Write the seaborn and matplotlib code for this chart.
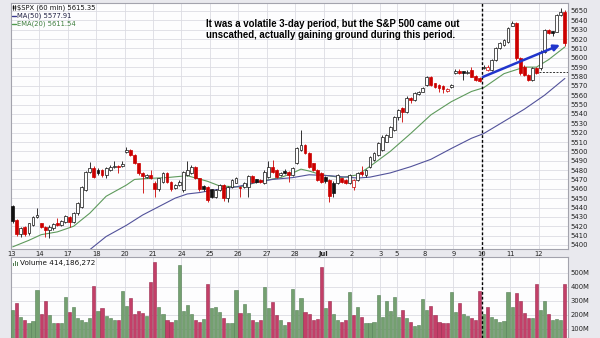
import numpy as np
import matplotlib
matplotlib.use("Agg")
import matplotlib.pyplot as plt
from matplotlib.lines import Line2D
from matplotlib.patches import Rectangle
import seaborn as sns

# ---------------- data ----------------
day_labels = ["13", "14", "17", "18", "20", "21", "24", "25", "26", "27", "28",
              "Jul", "2", "3", "5", "8", "9", "10", "11", "12"]
bars_per_day = [7] * 13 + [4] + [7] * 6
prev_close = 5421.0

opens = [
    5441.7, 5426.7, 5411.8, 5418.9, 5412.5, 5421.4, 5430.3,   # Jun 13
    5423.2, 5419.6, 5416.0, 5417.8, 5423.2, 5421.4, 5424.9,   # Jun 14
    5430.3, 5424.9, 5433.8, 5441.0, 5458.8, 5478.4, 5481.9,   # Jun 17
    5480.1, 5480.1, 5474.8, 5480.1, 5483.0, 5484.4, 5484.4,   # Jun 18
    5499.7, 5501.5, 5496.2, 5487.3, 5476.6, 5473.0, 5474.8,   # Jun 20
    5466.6, 5459.5, 5467.7, 5476.6, 5467.7, 5460.5, 5464.1,   # Jun 21
    5458.8, 5474.8, 5476.6, 5483.0, 5471.2, 5463.0, 5462.3,   # Jun 24
    5459.5, 5451.6, 5458.8, 5464.1, 5449.9, 5462.3, 5466.6,   # Jun 25
    5462.3, 5462.3, 5462.3, 5473.7, 5470.2, 5469.5, 5465.9,   # Jun 26
    5473.0, 5483.7, 5480.1, 5474.8, 5479.4, 5478.4, 5474.8,   # Jun 27
    5487.2, 5501.5, 5506.8, 5497.9, 5487.2, 5480.1, 5476.6,   # Jun 28
    5473.0, 5469.5, 5466.0, 5465.9, 5471.2, 5469.5, 5465.9,   # Jul 1
    5462.3, 5469.5, 5478.4, 5475.0, 5483.7, 5490.8, 5496.2,   # Jul 2
    5501.5, 5510.4, 5515.7, 5522.9,                           # Jul 3
    5537.1, 5546.0, 5542.5, 5557.5, 5554.5, 5561.3, 5563.8,   # Jul 5
    5570.9, 5579.1, 5572.7, 5570.9, 5569.9, 5565.0, 5568.5,   # Jul 8
    5584.1, 5586.3, 5585.5, 5583.4, 5587.0, 5580.6, 5578.0,   # Jul 9
    5588.8, 5587.0, 5587.0, 5597.6, 5610.1, 5613.7, 5617.2,   # Jul 10
    5634.3, 5636.8, 5599.4, 5590.5, 5581.6, 5576.3, 5588.8,   # Jul 11
    5588.8, 5606.6, 5629.7, 5628.5, 5627.9, 5645.7, 5649.3,   # Jul 12
]
highs = [
    5443.0, 5427.5, 5419.0, 5420.0, 5424.0, 5431.0, 5439.2,
    5424.0, 5420.5, 5421.0, 5423.0, 5428.5, 5427.0, 5432.0,
    5431.0, 5435.0, 5446.0, 5463.0, 5479.0, 5489.0, 5484.0,
    5482.0, 5481.0, 5483.0, 5485.0, 5490.1, 5485.0, 5490.1,
    5505.1, 5502.5, 5497.0, 5488.0, 5477.5, 5476.0, 5480.1,
    5468.0, 5472.0, 5478.0, 5478.0, 5468.5, 5465.5, 5469.0,
    5479.5, 5490.1, 5485.0, 5484.5, 5472.0, 5464.0, 5463.0,
    5460.0, 5460.0, 5465.0, 5465.0, 5463.5, 5470.5, 5473.0,
    5463.0, 5467.0, 5475.0, 5475.0, 5471.0, 5470.5, 5480.0,
    5490.1, 5490.8, 5481.0, 5478.0, 5481.0, 5479.5, 5483.0,
    5504.5, 5522.9, 5508.0, 5499.0, 5488.0, 5481.0, 5477.5,
    5474.0, 5470.5, 5468.5, 5476.0, 5472.0, 5470.5, 5476.0,
    5470.5, 5478.0, 5484.0, 5481.0, 5495.5, 5499.0, 5509.5,
    5517.0, 5519.0, 5527.5, 5538.0,
    5545.0, 5547.0, 5559.0, 5558.5, 5563.0, 5565.0, 5569.0,
    5580.5, 5580.0, 5573.5, 5572.0, 5570.5, 5568.0, 5572.0,
    5587.5, 5587.5, 5586.0, 5586.5, 5590.5, 5581.5, 5579.0,
    5592.0, 5592.0, 5599.0, 5611.5, 5617.0, 5620.5, 5633.0,
    5639.5, 5638.5, 5600.5, 5592.0, 5582.5, 5590.0, 5590.0,
    5608.0, 5631.0, 5631.0, 5629.0, 5647.0, 5652.9, 5650.5,
]
lows = [
    5424.0, 5410.0, 5408.9, 5410.0, 5411.0, 5420.0, 5429.0,
    5418.0, 5408.9, 5407.1, 5416.0, 5420.0, 5420.0, 5423.0,
    5419.6, 5423.0, 5432.0, 5440.0, 5458.0, 5477.0, 5472.0,
    5475.0, 5473.0, 5471.2, 5479.0, 5482.0, 5476.6, 5483.0,
    5498.5, 5495.0, 5486.0, 5475.0, 5455.2, 5472.0, 5470.0,
    5451.6, 5458.0, 5466.0, 5466.0, 5458.0, 5459.5, 5463.0,
    5457.0, 5474.0, 5476.0, 5470.0, 5458.0, 5457.5, 5446.0,
    5450.0, 5450.5, 5457.5, 5447.0, 5446.0, 5461.0, 5466.0,
    5451.6, 5461.0, 5451.6, 5466.0, 5466.5, 5466.0, 5465.0,
    5472.0, 5477.0, 5472.0, 5474.0, 5475.5, 5467.7, 5474.0,
    5486.0, 5500.5, 5497.0, 5482.5, 5479.0, 5468.0, 5466.5,
    5466.0, 5446.3, 5451.0, 5465.0, 5466.5, 5465.5, 5465.0,
    5458.8, 5468.5, 5473.5, 5473.0, 5482.5, 5490.0, 5495.0,
    5500.5, 5509.5, 5515.0, 5522.0,
    5533.5, 5531.8, 5541.5, 5552.0, 5554.0, 5560.5, 5563.0,
    5570.0, 5569.5, 5568.0, 5563.8, 5562.0, 5563.5, 5568.0,
    5583.0, 5582.5, 5576.3, 5582.5, 5579.0, 5575.5, 5574.5,
    5587.5, 5586.0, 5586.0, 5596.5, 5609.0, 5612.5, 5616.0,
    5633.5, 5598.0, 5582.0, 5580.0, 5575.0, 5575.0, 5583.0,
    5587.0, 5605.5, 5625.0, 5623.5, 5627.0, 5644.5, 5613.0,
]
closes = [
    5426.0, 5411.8, 5417.8, 5411.8, 5423.2, 5430.3, 5432.0,
    5419.6, 5416.0, 5419.6, 5422.1, 5421.4, 5425.7, 5431.3,
    5424.9, 5433.8, 5444.5, 5462.3, 5478.4, 5481.9, 5473.0,
    5476.6, 5474.8, 5481.9, 5483.7, 5484.4, 5483.0, 5486.5,
    5501.5, 5496.2, 5487.3, 5476.6, 5473.7, 5474.8, 5471.2,
    5459.5, 5471.2, 5476.6, 5467.7, 5459.5, 5464.1, 5467.7,
    5478.4, 5480.1, 5483.7, 5471.2, 5459.5, 5460.0, 5448.1,
    5451.6, 5458.8, 5464.1, 5449.9, 5462.3, 5469.5, 5471.2,
    5460.5, 5465.9, 5473.7, 5467.7, 5467.7, 5467.0, 5478.4,
    5483.7, 5478.4, 5473.0, 5476.6, 5476.6, 5474.8, 5481.9,
    5503.3, 5506.8, 5497.9, 5483.7, 5480.1, 5469.5, 5467.7,
    5468.2, 5452.0, 5455.5, 5474.8, 5467.7, 5466.6, 5474.8,
    5469.5, 5476.6, 5475.5, 5480.0, 5494.4, 5497.9, 5508.6,
    5515.7, 5517.5, 5526.4, 5537.1,
    5544.2, 5542.5, 5557.5, 5555.2, 5562.0, 5563.8, 5567.4,
    5579.1, 5570.9, 5569.2, 5567.4, 5567.0, 5566.5, 5570.9,
    5586.3, 5583.4, 5584.0, 5585.2, 5579.8, 5576.3, 5575.5,
    5590.5, 5590.0, 5597.6, 5610.1, 5615.5, 5619.0, 5631.5,
    5637.2, 5599.4, 5583.4, 5581.6, 5576.3, 5588.8, 5584.1,
    5606.6, 5629.7, 5626.1, 5626.5, 5645.7, 5649.3, 5615.35,
]
volume_m = [
    233.5, 285.9, 185.9, 162.1, 143.0, 157.3, 376.4,
    202.6, 300.2, 197.8, 143.0, 143.0, 143.0, 328.8,
    219.2, 257.3, 178.8, 162.1, 150.2, 174.0, 407.3,
    226.4, 245.4, 190.7, 174.0, 162.1, 162.1, 369.2,
    262.1, 316.9, 205.0, 226.4, 214.5, 190.7, 433.5,
    576.4, 257.3, 202.6, 162.1, 150.2, 162.1, 555.0,
    226.4, 269.2, 205.0, 162.1, 150.2, 169.2, 419.2,
    245.4, 252.6, 216.9, 174.0, 143.0, 143.0, 376.4,
    214.5, 274.0, 214.5, 162.1, 150.2, 159.7, 400.2,
    250.2, 288.3, 197.8, 162.1, 126.4, 150.2, 381.1,
    233.5, 316.9, 221.6, 202.6, 162.1, 169.2, 543.1,
    245.4, 300.2, 202.6, 162.1, 150.2, 162.1, 359.7,
    197.8, 257.3, 181.1, 143.0, 143.0, 150.2, 340.7,
    185.9, 297.8, 228.8, 324.0,
    185.9, 233.5, 174.0, 150.2, 119.2, 126.4, 312.1,
    233.5, 262.1, 197.8, 150.2, 143.0, 143.0, 359.7,
    216.9, 285.9, 202.6, 190.7, 174.0, 162.1, 371.6,
    202.6, 257.3, 185.9, 169.2, 150.2, 155.0, 359.7,
    257.3, 352.6, 297.8, 214.5, 174.0, 174.0, 416.8,
    231.1, 297.8, 202.6, 162.1, 166.8, 162.1, 416.8,
]
ema20_bar = [0, 4, 7, 11, 15, 19, 23, 28, 30, 33, 38, 43, 48, 51, 56, 61, 66, 69,
             71, 73, 76, 81, 85, 88, 93, 98, 103, 108, 113, 116, 121, 126, 129, 132, 136]
ema20_val = [5398, 5405, 5411, 5414, 5420, 5434, 5452, 5464, 5470, 5471, 5472, 5474,
             5468, 5463, 5462, 5468, 5472, 5477, 5481, 5479, 5475, 5472, 5475, 5484,
             5500, 5519, 5539, 5553, 5564, 5568, 5583, 5590, 5590, 5598, 5611.54]
ma50_bar = [19, 23, 28, 32, 36, 40, 43, 46, 50, 55, 60, 64, 69, 73, 78, 85, 88, 93,
            98, 103, 108, 113, 116, 121, 126, 131, 136]
ma50_val = [5395, 5409, 5421, 5432, 5441, 5450, 5454.5, 5456, 5459, 5462, 5467, 5470,
            5472, 5475, 5474, 5471.5, 5472.5, 5477, 5483.6, 5491.5, 5503, 5514, 5519,
            5532, 5545, 5560, 5577.91]

last_close = 5615.35
ma50_last = 5577.91
ema20_last = 5611.54
last_volume = 414186272
note_lines = ["It was a volatile 3-day period, but the S&P 500 came out",
              "unscathed, actually gaining ground during this period."]
arrow_from = (115.8, 5579.5)
arrow_to = (134.8, 5613.7)
support_level = 5584.3
support_from_day = "12"
marker_day = "10"
price_ticks = list(range(5400, 5651, 10))
vol_ticks = [100, 200, 300, 400, 500]

# ---------------- style ----------------
sns.set_theme(style="white")
plt.rcParams["font.family"] = ["DejaVu Sans"]

FIG_BG = "#E9E9EE"
PLOT_BG = "#FDFDFE"
GRID = "#DCDCE3"
SPINE = "#A3A3AD"
RED = "#CC0000"
VOL_G, VOL_G_E = "#74A070", "#557F55"
VOL_R, VOL_R_E = "#C33F68", "#9A2A4E"

W, H = 600, 338
fig = plt.figure(figsize=(W / 100, H / 100), dpi=100)
fig.patch.set_facecolor(FIG_BG)


def px(l, t, r, b):
    return [l / W, 1 - b / H, (r - l) / W, (b - t) / H]


def fx(x):
    return x / W


def fy(y):
    return 1 - y / H


ax = fig.add_axes(px(11, 3, 568, 249))
axv = fig.add_axes(px(11, 257, 568, 338))

o = np.array(opens)
h = np.array(highs)
lo = np.array(lows)
c = np.array(closes)
v = np.array(volume_m)
idx = np.arange(len(c))
prevc = np.r_[prev_close, c[:-1]]
up_day = c >= prevc
edge = np.where(up_day, "#111111", RED)
fill = np.where(c > o, "white", edge)

starts = np.cumsum([0] + bars_per_day[:-1])
xlim = (-0.42, len(c) - 0.23)
day_pos = np.maximum(starts - 0.45, xlim[0] + 0.05)

for a in (ax, axv):
    a.set_facecolor(PLOT_BG)
    a.set_xlim(*xlim)
    a.set_xticks(day_pos)
    a.grid(True, color=GRID, linewidth=0.6)
    a.set_axisbelow(True)
    for s in a.spines.values():
        s.set_color(SPINE)
        s.set_linewidth(0.8)
    a.yaxis.tick_right()
    a.tick_params(axis="both", length=0, labelsize=4.9, colors="#222222", pad=2)

# moving averages
sns.lineplot(x=ema20_bar, y=ema20_val, ax=ax, color="#5E9A5C", linewidth=0.8,
             zorder=2, legend=False)
sns.lineplot(x=ma50_bar, y=ma50_val, ax=ax, color="#52529A", linewidth=0.8,
             zorder=2, legend=False)

# candles
ax.vlines(idx, lo, h, colors=edge, linewidth=0.6, zorder=3)
ax.bar(idx, np.maximum(np.abs(c - o), 0.35), bottom=np.minimum(o, c), width=0.7,
       color=fill, edgecolor=edge, linewidth=0.5, zorder=4)

ax.set_ylim(5395.7, 5658.5)
ax.set_yticks(price_ticks)
ax.set_yticklabels([str(t) for t in price_ticks])
ax.set_xticklabels(day_labels)
ax.tick_params(axis="x", pad=1.5)
for t in ax.get_xticklabels():
    if t.get_text() == "Jul":
        t.set_fontweight("bold")
ax.set_xlabel("")
ax.set_ylabel("")

# volume
vcol = np.where(up_day, VOL_G, VOL_R)
vedge = np.where(up_day, VOL_G_E, VOL_R_E)
axv.bar(idx, v, width=0.78, color=vcol, edgecolor=vedge, linewidth=0.4, zorder=3)
axv.set_ylim(33.6, 612)
axv.set_yticks(vol_ticks)
axv.set_yticklabels([f"{t}M" for t in vol_ticks])
axv.set_xticklabels([])
axv.set_xlabel("")
axv.set_ylabel("")

# marker lines
x_mark = starts[day_labels.index(marker_day)] - 0.45
ax.axvline(x_mark, ymin=-0.04, ymax=1, color="black", linestyle=(0, (2, 1.5)),
           linewidth=1.0, zorder=5, clip_on=False)
axv.axvline(x_mark, color="black", linestyle=(0, (2, 1.5)), linewidth=1.0, zorder=5)
x_sup = starts[day_labels.index(support_from_day)] - 0.45
ax.hlines(support_level, x_sup, xlim[1], colors="#333333", linestyles=(0, (2, 1.5)),
          linewidth=0.7, zorder=5)

ax.annotate("", xy=arrow_to, xytext=arrow_from,
            arrowprops=dict(arrowstyle="-|>", color="#2035CC", lw=1.8,
                            mutation_scale=9, shrinkA=0, shrinkB=0), zorder=6)

# legend texts and small key marks
fs = 4.9
ly = [7.4, 15.5, 23.6]
fig.text(fx(17), fy(ly[0]), f"$SPX (60 min) {last_close:.2f}", fontsize=fs,
         color="#111111", va="center", ha="left")
fig.text(fx(17), fy(ly[1]), f"MA(50) {ma50_last:.2f}", fontsize=fs,
         color="#222244", va="center", ha="left")
fig.text(fx(17), fy(ly[2]), f"EMA(20) {ema20_last:.2f}", fontsize=fs,
         color="#3E7E3E", va="center", ha="left")
fig.add_artist(Line2D([fx(12.3), fx(16)], [fy(ly[1]), fy(ly[1])], color="#3A3A90", lw=1.0))
fig.add_artist(Line2D([fx(12.3), fx(16)], [fy(ly[2]), fy(ly[2])], color="#4E9A4E", lw=1.0))
# small candle key icon
fig.add_artist(Line2D([fx(13.2), fx(13.2)], [fy(5.0), fy(10.0)], color="#111111", lw=0.5))
fig.add_artist(Rectangle((fx(12.5), fy(9.0)), fx(1.4), 3 / H, facecolor="#111111",
                         edgecolor="#111111", lw=0.3))
fig.add_artist(Line2D([fx(15.3), fx(15.3)], [fy(5.0), fy(10.0)], color="#111111", lw=0.5))
fig.add_artist(Rectangle((fx(14.6), fy(8.5)), fx(1.4), 2.5 / H, facecolor="white",
                         edgecolor="#111111", lw=0.3))

fig.text(fx(20), fy(263), f"Volume {last_volume:,}", fontsize=5.2,
         color="#111111", va="center", ha="left")
for k, hh in enumerate([3, 5, 4]):
    fig.add_artist(Rectangle((fx(13 + 1.8 * k), fy(266)), fx(1.3), hh / H,
                             facecolor="#557F55", edgecolor="none"))

for i, line in enumerate(note_lines):
    fig.text(fx(206), fy(24 + 11 * i), line, fontsize=6.9, fontweight="bold",
             family=["Liberation Sans", "DejaVu Sans"], color="black",
             va="center", ha="left")

fig.savefig("out.png", dpi=100, facecolor=fig.get_facecolor())
